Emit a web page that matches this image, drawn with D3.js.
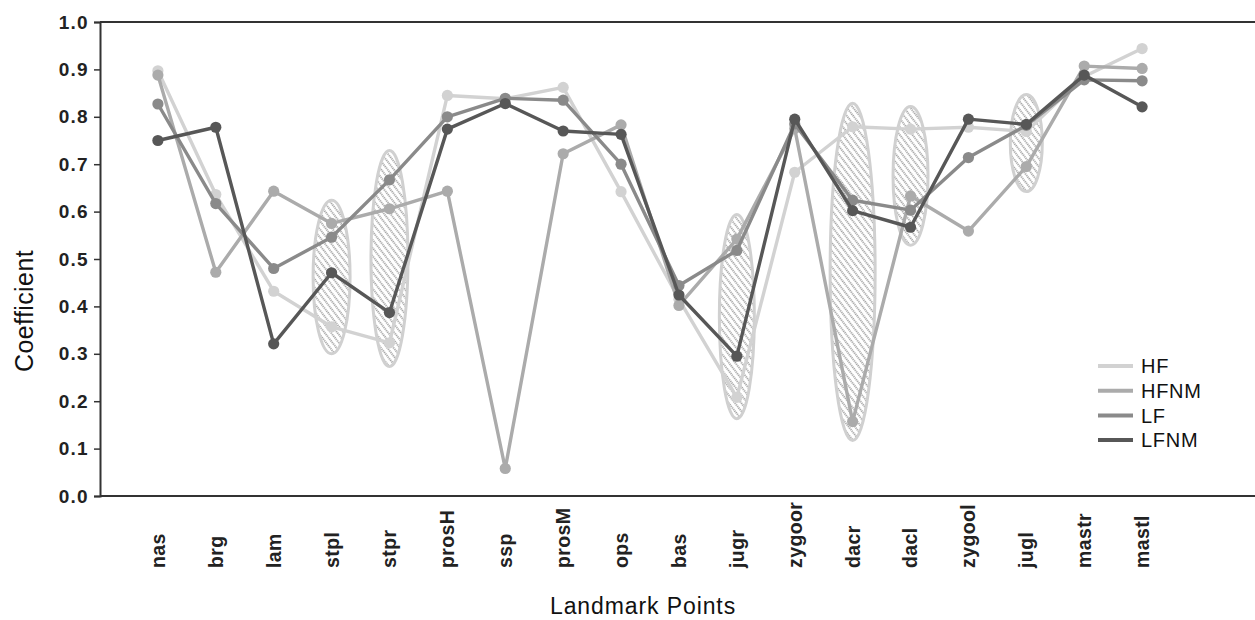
<!DOCTYPE html>
<html><head><meta charset="utf-8">
<script src="https://cdn.jsdelivr.net/npm/d3@7/dist/d3.min.js"></script>
<style>
html,body{margin:0;padding:0;background:#fff;}
svg{display:block;font-family:"Liberation Sans",Arial,sans-serif;}
</style></head>
<body><svg id="chart" width="1255" height="620"></svg>
<script>
const categories = ["nas","brg","lam","stpl","stpr","prosH","ssp","prosM","ops","bas","jugr","zygoor","dacr","dacl","zygool","jugl","mastr","mastl"];
const seriesNames = ["HF","HFNM","LF","LFNM"];
const HF   = [0.897,0.636,0.432,0.357,0.323,0.845,0.838,0.862,0.642,0.415,0.208,0.683,0.779,0.774,0.778,0.769,0.885,0.944];
const HFNM = [0.888,0.472,0.643,0.575,0.606,0.643,0.058,0.722,0.783,0.402,0.542,0.775,0.157,0.633,0.559,0.695,0.907,0.902];
const LF   = [0.827,0.617,0.480,0.546,0.667,0.800,0.839,0.835,0.700,0.444,0.518,0.785,0.624,0.603,0.714,0.782,0.878,0.876];
const LFNM = [0.750,0.778,0.321,0.471,0.387,0.774,0.828,0.770,0.763,0.424,0.295,0.795,0.602,0.567,0.795,0.784,0.888,0.821];
const yTicks = [0.0,0.1,0.2,0.3,0.4,0.5,0.6,0.7,0.8,0.9,1.0];
// highlighted landmarks (value range covered by the shaded ellipse)
const hlCats = ["stpl","stpr","jugr","dacr","dacl","jugl"];
const hlLow  = [0.297,0.270,0.160,0.114,0.526,0.639];
const hlHigh = [0.627,0.732,0.597,0.832,0.825,0.850];

const colors = {HF:"#d2d2d2",HFNM:"#ababab",LF:"#8a8a8a",LFNM:"#575757"};
const hlRx = [18.5,18.5,17.5,22.5,17.5,16];
const values = {HF,HFNM,LF,LFNM};

const svg = d3.select("#chart");
const x = d3.scalePoint().domain(categories).range([100,1200]).padding(1);
const y = d3.scaleLinear().domain([0,1]).range([496,22]);

// hatch pattern
const defs = svg.append("defs");
const pat = defs.append("pattern").attr("id","hatch").attr("patternUnits","userSpaceOnUse")
  .attr("width",5).attr("height",8).attr("patternTransform","rotate(-38)");
pat.append("rect").attr("width",5).attr("height",8).attr("fill","#fff");
pat.append("line").attr("x1",1).attr("x2",1).attr("y1",0).attr("y2",8)
  .attr("stroke","#3a3a3a").attr("stroke-width",0.9).attr("stroke-dasharray","1.2,0.8");

// ellipses
svg.append("g").selectAll("ellipse").data(hlCats).join("ellipse")
  .attr("cx",d=>x(d))
  .attr("cy",(d,i)=>(y(hlLow[i])+y(hlHigh[i]))/2)
  .attr("rx",(d,i)=>hlRx[i])
  .attr("ry",(d,i)=>(y(hlLow[i])-y(hlHigh[i]))/2-1.5)
  .attr("fill","url(#hatch)").attr("stroke","#d0d0d0").attr("stroke-width",3);

// axes frame
svg.append("line").attr("x1",100).attr("x2",1255).attr("y1",y(1)).attr("y2",y(1)).attr("stroke","#333").attr("stroke-width",2);
svg.append("line").attr("x1",100).attr("x2",1255).attr("y1",y(0)).attr("y2",y(0)).attr("stroke","#333").attr("stroke-width",2);

const yAxis = svg.append("g").attr("transform","translate(100,0)")
  .call(d3.axisLeft(y).tickValues(yTicks).tickFormat(d3.format(".1f")).tickSize(6).tickPadding(5));
yAxis.select(".domain").attr("stroke","#333").attr("stroke-width",2);
yAxis.selectAll(".tick line").attr("stroke","#333").attr("stroke-width",1.5);
yAxis.selectAll(".tick text").attr("font-family","Liberation Sans, Arial, sans-serif")
  .attr("font-size",19).attr("font-weight","bold").attr("fill","#222").attr("letter-spacing","1.3px");

// x labels
const xAxis = svg.append("g").attr("transform",`translate(0,${y(0)})`)
  .call(d3.axisBottom(x).tickSize(0).tickPadding(0));
xAxis.select(".domain").remove();
xAxis.selectAll(".tick text")
  .attr("transform","translate(0,72) rotate(-90)")
  .attr("text-anchor","start").attr("dy","0.33em").attr("y",0).attr("x",0)
  .attr("font-family","Liberation Sans, Arial, sans-serif")
  .attr("font-size",19.5).attr("font-weight","bold").attr("fill","#222").attr("letter-spacing","0.4px");

// series
const line = d3.line().x((d,i)=>x(categories[i])).y(d=>y(d));
seriesNames.forEach(s=>{
  const g = svg.append("g");
  g.append("path").datum(values[s]).attr("d",line).attr("fill","none")
    .attr("stroke",colors[s]).attr("stroke-width",3.4).attr("stroke-linejoin","round");
  g.selectAll("circle").data(values[s]).join("circle")
    .attr("cx",(d,i)=>x(categories[i])).attr("cy",d=>y(d)).attr("r",5.6).attr("fill",colors[s]);
});

// legend
const lg = svg.append("g").attr("transform","translate(1098,366)");
seriesNames.forEach((s,i)=>{
  lg.append("line").attr("x1",0).attr("x2",35).attr("y1",i*24.7).attr("y2",i*24.7)
    .attr("stroke",colors[s]).attr("stroke-width",4);
  lg.append("text").attr("x",43).attr("y",i*24.7).attr("dy","0.36em")
    .attr("font-size",20).attr("letter-spacing","0.7px").attr("fill","#111").text(s);
});

// axis titles
svg.append("text").attr("x",643).attr("y",614).attr("text-anchor","middle")
  .attr("font-size",23).attr("letter-spacing","0.9px").attr("fill","#111").text("Landmark Points");
svg.append("text").attr("transform","translate(33,311) rotate(-90)").attr("text-anchor","middle")
  .attr("font-size",25).attr("letter-spacing","0.4px").attr("fill","#111").text("Coefficient");
</script></body></html>
